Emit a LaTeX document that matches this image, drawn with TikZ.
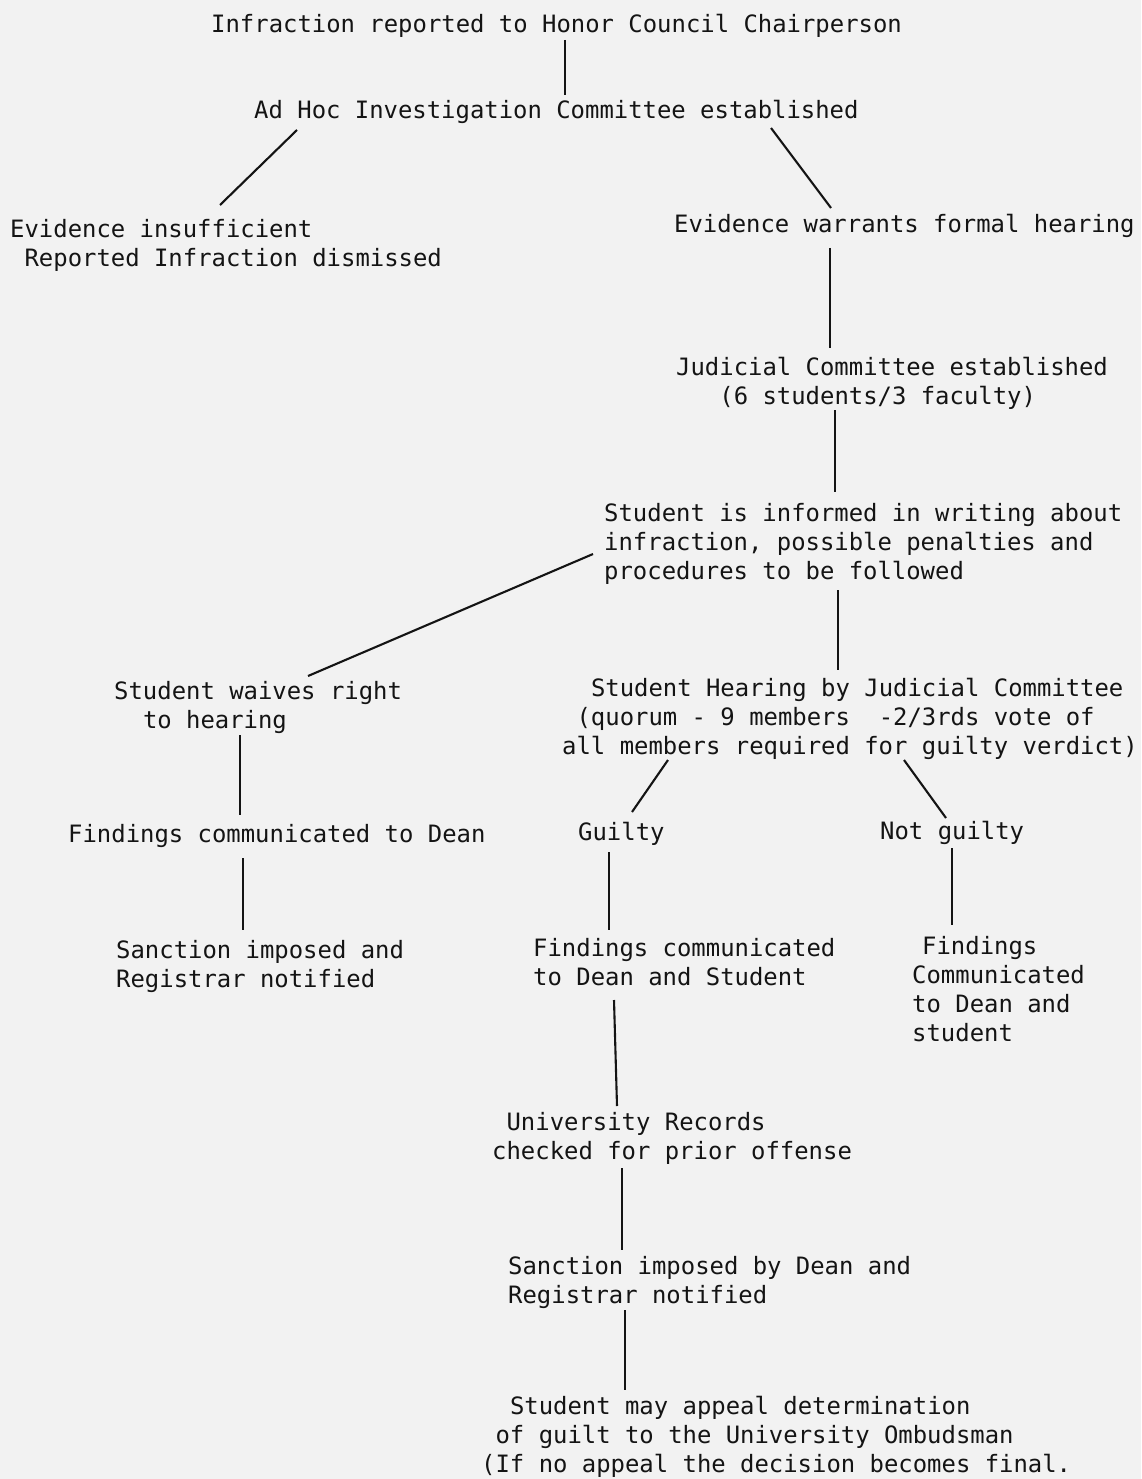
\documentclass[tikz,border=0pt]{standalone}
\usepackage{fontspec}
\newfontfamily\twfont{DejaVu Sans Mono}
\newcommand\fs{\rule{0pt}{23pt}}
\begin{document}
\begin{tikzpicture}[x=1pt,y=-1pt,
  txt/.style={anchor=north west,inner sep=0pt,align=left,
    font=\twfont\fontsize{23.9}{29}\selectfont,text=black!92},
  conn/.style={draw=black!92,line width=2.1pt}]
\fill[black!5] (0,0) rectangle (1141,1479);
\useasboundingbox (0,0) rectangle (1141,1479);
\node[txt] (n1) at (211,9) {\fs Infraction reported to Honor Council Chairperson};
\node[txt] (n2) at (254,95) {\fs Ad Hoc Investigation Committee established};
\node[txt] (n3) at (10,214) {\fs Evidence insufficient\\\hspace*{14.4pt}Reported Infraction dismissed};
\node[txt] (n4) at (674,209) {\fs Evidence warrants formal hearing};
\node[txt] (n5) at (676,352) {\fs Judicial Committee established\\\hspace*{43.2pt}(6 students/3 faculty)};
\node[txt] (n6) at (604,498) {\fs Student is informed in writing about\\infraction, possible penalties and\\procedures to be followed};
\node[txt] (n7) at (114,676) {\fs Student waives right\\\hspace*{28.8pt}to hearing};
\node[txt] (n8) at (562,673) {\fs\hspace*{28.8pt}Student Hearing by Judicial Committee\\\hspace*{14.4pt}(quorum - 9 members\ \ -2/3rds vote of\\all members required for guilty verdict)};
\node[txt] (n9) at (68,819) {\fs Findings communicated to Dean};
\node[txt] (n10) at (578,817) {\fs Guilty};
\node[txt] (n11) at (880,816) {\fs Not guilty};
\node[txt] (n12) at (116,935) {\fs Sanction imposed and\\Registrar notified};
\node[txt] (n13) at (533,933) {\fs Findings communicated\\to Dean and Student};
\node[txt] (n14) at (912,931) {\fs\hspace*{10pt}Findings\\Communicated\\to Dean and\\student};
\node[txt] (n15) at (492,1107) {\fs\hspace*{14.4pt}University Records\\checked for prior offense};
\node[txt] (n16) at (508,1251) {\fs Sanction imposed by Dean and\\Registrar notified};
\node[txt] (n17) at (481,1391) {\fs\hspace*{28.8pt}Student may appeal determination\\\hspace*{14.4pt}of guilt to the University Ombudsman\\(If no appeal the decision becomes final.};
\draw[conn] ([shift={(354,31)}]n1.north west) -- ([shift={(311,0)}]n2.north west);
\draw[conn] ([shift={(43,35)}]n2.north west) -- ([shift={(210,-9)}]n3.north west);
\draw[conn] ([shift={(517,33)}]n2.north west) -- ([shift={(157,-1)}]n4.north west);
\draw[conn] ([shift={(156,39)}]n4.north west) -- ([shift={(154,-4)}]n5.north west);
\draw[conn] ([shift={(159,58)}]n5.north west) -- ([shift={(231,-6)}]n6.north west);
\draw[conn] ([shift={(-11,56)}]n6.north west) -- ([shift={(194,0)}]n7.north west);
\draw[conn] ([shift={(234,92)}]n6.north west) -- ([shift={(276,-3)}]n8.north west);
\draw[conn] ([shift={(126,59)}]n7.north west) -- ([shift={(172,-4)}]n9.north west);
\draw[conn] ([shift={(106,87)}]n8.north west) -- ([shift={(54,-5)}]n10.north west);
\draw[conn] ([shift={(342,87)}]n8.north west) -- ([shift={(66,2)}]n11.north west);
\draw[conn] ([shift={(175,39)}]n9.north west) -- ([shift={(127,-5)}]n12.north west);
\draw[conn] ([shift={(31,35)}]n10.north west) -- ([shift={(76,-3)}]n13.north west);
\draw[conn] ([shift={(72,32)}]n11.north west) -- ([shift={(40,-6)}]n14.north west);
\draw[conn] ([shift={(81,67)}]n13.north west) -- ([shift={(125,-1)}]n15.north west);
\draw[conn] ([shift={(130,61)}]n15.north west) -- ([shift={(114,-1)}]n16.north west);
\draw[conn] ([shift={(117,59)}]n16.north west) -- ([shift={(144,-1)}]n17.north west);
\end{tikzpicture}
\end{document}
